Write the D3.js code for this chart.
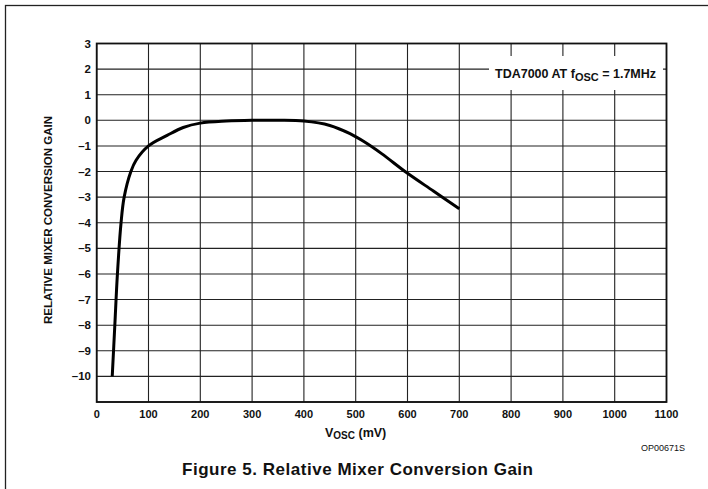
<!DOCTYPE html>
<html><head><meta charset="utf-8">
<script src="https://cdn.jsdelivr.net/npm/d3@7"></script>
<style>body{margin:0;background:#fff}svg{display:block}text{font-family:"Liberation Sans",Arial,sans-serif;fill:#111}</style>
</head><body>
<svg id="c" width="708" height="489"></svg>
<script>
const vosc = [30, 35, 40, 47, 53, 66, 76, 100, 136, 167, 200, 250, 300, 350, 400, 450, 489, 515, 550, 598, 650, 700];
const gain = [-10, -8, -6, -4, -3, -2, -1.56, -1, -0.59, -0.28, -0.11, -0.03, 0, 0, -0.03, -0.2, -0.52, -0.82, -1.3, -2.04, -2.76, -3.45];
const xTicks = [0, 100, 200, 300, 400, 500, 600, 700, 800, 900, 1000, 1100];
const yTicks = [3, 2, 1, 0, -1, -2, -3, -4, -5, -6, -7, -8, -9, -10];
const yGrid = d3.range(-11, 4);

const svg = d3.select("#c");
const L = 96.7, R = 666.5, T = 43.5, B = 402;
const x = d3.scaleLinear().domain([0, 1100]).range([L, R]);
const y = d3.scaleLinear().domain([-11, 3]).range([B, T]);

// outer frame (clipped by page)
svg.append("rect").attr("x", 5.5).attr("y", 5.5).attr("width", 760).attr("height", 560)
  .attr("fill", "none").attr("stroke", "#222").attr("stroke-width", 1.3);

const g = svg.append("g");
g.selectAll(".vg").data(xTicks).join("line")
  .attr("x1", d => x(d)).attr("x2", d => x(d)).attr("y1", T).attr("y2", B)
  .attr("stroke", "#222").attr("stroke-width", 1.1);
g.selectAll(".hg").data(yGrid).join("line")
  .attr("x1", L).attr("x2", R).attr("y1", d => y(d)).attr("y2", d => y(d))
  .attr("stroke", "#222").attr("stroke-width", 1.1);
g.append("rect").attr("x", L).attr("y", T).attr("width", R - L).attr("height", B - T)
  .attr("fill", "none").attr("stroke", "#111").attr("stroke-width", 1.8);

// legend label box
g.append("rect").attr("x", 489).attr("y", 56).attr("width", 174).attr("height", 34).attr("fill", "#fff");
const lt = svg.append("text").attr("x", 495).attr("y", 78).attr("font-size", 12.5).attr("font-weight", "bold");
lt.append("tspan").text("TDA7000 AT f");
lt.append("tspan").attr("dy", 3).attr("font-size", 11).text("OSC");
lt.append("tspan").attr("dy", -3).text(" = 1.7MHz");

// curve
const line = d3.line().x((d, i) => x(vosc[i])).y((d, i) => y(gain[i])).curve(d3.curveCatmullRom.alpha(0.5));
svg.append("path").datum(gain).attr("d", line).attr("fill", "none")
  .attr("stroke", "#000").attr("stroke-width", 3).attr("stroke-linejoin", "round");

// y tick labels
svg.selectAll(".yl").data(yTicks).join("text")
  .attr("x", 91).attr("y", d => y(d) + 4).attr("text-anchor", "end")
  .attr("font-size", 11.5).attr("font-weight", "bold")
  .text(d => d < 0 ? "\u2013" + Math.abs(d) : d);

// x tick labels
svg.selectAll(".xl").data(xTicks).join("text")
  .attr("x", d => x(d)).attr("y", 418).attr("text-anchor", "middle")
  .attr("font-size", 11).attr("font-weight", "bold").text(d => d);

// x title
const xt = svg.append("text").attr("x", 325).attr("y", 437).attr("font-size", 12.5).attr("font-weight", "bold");
xt.append("tspan").text("V");
xt.append("tspan").attr("dy", 2).attr("font-size", 10).text("OSC");
xt.append("tspan").attr("dy", -2).text(" (mV)");

// y title
svg.append("text").attr("transform", "translate(52,220) rotate(-90)").attr("text-anchor", "middle")
  .attr("font-size", 11.5).attr("font-weight", "bold").text("RELATIVE MIXER CONVERSION GAIN");

svg.append("text").attr("x", 685).attr("y", 451).attr("text-anchor", "end").attr("font-size", 9)
  .text("OP00671S");

svg.append("text").attr("x", 182).attr("y", 475).attr("font-size", 17).attr("font-weight", "bold")
  .attr("textLength", 351).attr("lengthAdjust", "spacing")
  .text("Figure 5. Relative Mixer Conversion Gain");
</script>
</body></html>
